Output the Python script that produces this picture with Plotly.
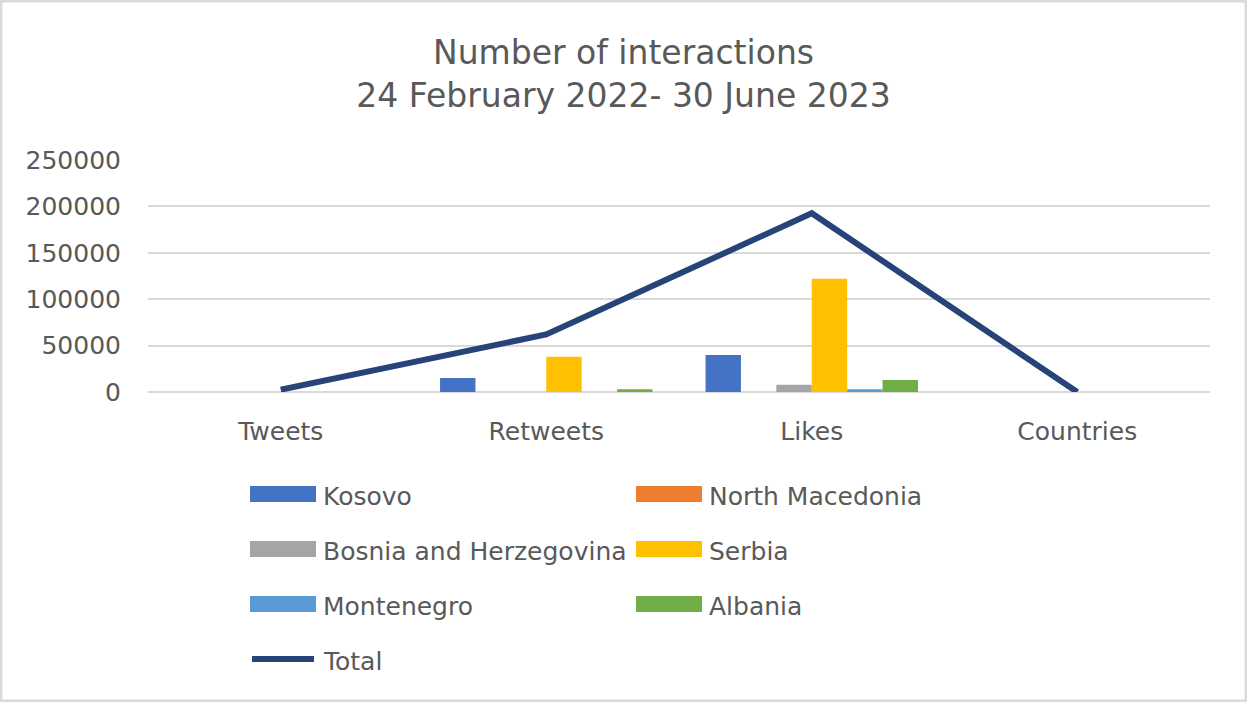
import plotly.graph_objects as go

# Interaction categories on the x axis
categories = ["Tweets", "Retweets", "Likes", "Countries"]

# Per-country interaction counts
kosovo = [0, 15000, 40000, 0]
north_macedonia = [0, 0, 0, 0]
bosnia = [0, 0, 7800, 0]
serbia = [0, 38000, 122000, 0]
montenegro = [0, 0, 2900, 0]
albania = [0, 3000, 13000, 0]

# Overall total line
total = [2500, 62000, 192600, 0]

y_ticks = [0, 50000, 100000, 150000, 200000, 250000]

series = [
    ("Kosovo", kosovo, "#4472C4"),
    ("North Macedonia", north_macedonia, "#ED7D31"),
    ("Bosnia and Herzegovina", bosnia, "#A5A5A5"),
    ("Serbia", serbia, "#FFC000"),
    ("Montenegro", montenegro, "#5B9BD5"),
    ("Albania", albania, "#70AD47"),
]
total_color = "#264478"

FONT = "DejaVu Sans"
TEXT = "#595959"
GRID = "#D9D9D9"

W, H = 1247, 702
L, R, T, B = 148, 37, 160, 310
PW, PH = W - L - R, H - T - B


def px_x(px):
    return (px - L) / PW


def px_y(py):
    return (H - B - py) / PH


fig = go.Figure()
for name, vals, color in series:
    fig.add_trace(go.Bar(
        x=categories, y=vals, name=name,
        marker=dict(color=color, line=dict(width=0)),
    ))

fig.add_trace(go.Scatter(
    x=categories, y=total, name="Total", mode="lines",
    line=dict(color=total_color, width=6),
))

# Two-column legend with wide swatches
shapes = []
annotations = []
col_x = [250, 636]
row_y = [494, 549, 604, 659]
sw_w, sw_h = 66, 16
entries = [(n, c, "bar") for n, _, c in series] + [("Total", total_color, "line")]
for i, (name, color, kind) in enumerate(entries):
    cx = col_x[i % 2]
    cy = row_y[i // 2]
    if kind == "bar":
        shapes.append(dict(
            type="rect", xref="paper", yref="paper",
            x0=px_x(cx), x1=px_x(cx + sw_w),
            y0=px_y(cy + sw_h / 2), y1=px_y(cy - sw_h / 2),
            fillcolor=color, line=dict(width=0),
        ))
    else:
        shapes.append(dict(
            type="line", xref="paper", yref="paper",
            x0=px_x(cx + 2), x1=px_x(cx + sw_w - 2),
            y0=px_y(cy), y1=px_y(cy),
            line=dict(color=color, width=6),
        ))
    annotations.append(dict(
        text=name, xref="paper", yref="paper",
        x=px_x(cx + sw_w + 5), y=px_y(cy + 2),
        xanchor="left", yanchor="middle", showarrow=False,
        font=dict(family=FONT, size=25, color=TEXT),
    ))

# Outer chart frame
shapes.append(dict(
    type="rect", xref="paper", yref="paper",
    x0=px_x(1.2), x1=px_x(W - 1.2),
    y0=px_y(H - 1.2), y1=px_y(1.2),
    line=dict(color=GRID, width=2.5), fillcolor="rgba(0,0,0,0)",
))

fig.update_layout(
    width=W, height=H,
    margin=dict(l=L, r=R, t=T, b=B, pad=0),
    paper_bgcolor="white", plot_bgcolor="white",
    barmode="group", bargap=0.2, bargroupgap=0,
    showlegend=False,
    title=dict(
        text="Number of interactions<br>24 February 2022- 30 June 2023",
        x=0.5, xanchor="center", xref="container",
        y=1 - 64 / H, yanchor="middle", yref="container",
        font=dict(family=FONT, size=33, color=TEXT),
    ),
    font=dict(family=FONT, size=25, color=TEXT),
    shapes=shapes,
    annotations=annotations,
)

fig.update_xaxes(
    type="category", showgrid=False, showline=False, ticks="",
    tickfont=dict(family=FONT, size=25, color=TEXT),
    ticklabelstandoff=22,
)
fig.update_yaxes(
    range=[0, 250000], tickvals=y_ticks, tickformat="d",
    showgrid=True, gridcolor=GRID, gridwidth=1.5,
    zeroline=True, zerolinecolor=GRID, zerolinewidth=1.5,
    showline=False, ticks="",
    tickfont=dict(family=FONT, size=25, color=TEXT),
    ticklabelstandoff=26,
)

fig.write_html("out.html")
